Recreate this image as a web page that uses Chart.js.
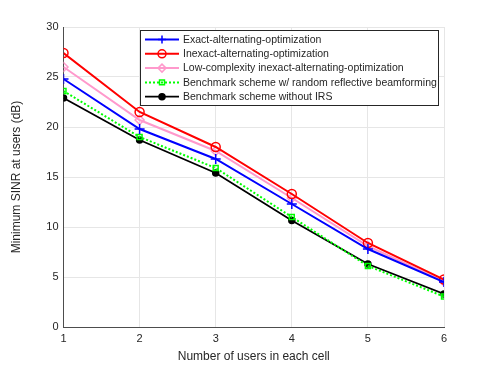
<!DOCTYPE html>
<html>
<head>
<meta charset="utf-8">
<script src="https://cdn.jsdelivr.net/npm/chart.js@4/dist/chart.umd.min.js"></script>
<style>
  html, body { margin: 0; padding: 0; background: #fff; }
  #wrap { width: 491px; height: 368px; }
</style>
</head>
<body>
<div id="wrap"><canvas id="chart" width="491" height="368"></canvas></div>
<script>
/* =========================
   DATA
========================= */
const users = [1, 2, 3, 4, 5, 6];
const exactAO = [24.8, 19.8, 16.8, 12.3, 7.8, 4.5];
const inexactAO = [27.4, 21.5, 18.0, 13.3, 8.4, 4.75];
const lowComplexity = [26.0, 20.7, 17.6, 12.9, 8.1, 4.55];
const randomBeam = [23.6, 19.0, 15.9, 11.0, 6.1, 3.05];
const withoutIRS = [22.9, 18.7, 15.4, 10.65, 6.3, 3.3];
const yTicks = [0, 5, 10, 15, 20, 25, 30];

const FONT = "'Liberation Sans', Arial, sans-serif";

function series(label, data, color, style, opts) {
  return Object.assign({
    label: label,
    data: data.map((v, i) => ({ x: users[i], y: v })),
    borderColor: color,
    backgroundColor: "rgba(0,0,0,0)",
    pointBorderColor: color,
    pointBackgroundColor: "rgba(0,0,0,0)",
    borderWidth: 2,
    pointBorderWidth: 1.5,
    pointStyle: style,
    pointRadius: 4,
    tension: 0
  }, opts || {});
}

const datasets = [
  series("Exact-alternating-optimization", exactAO, "#0000ff", "cross", { pointRadius: 5 }),
  series("Inexact-alternating-optimization", inexactAO, "#ff0000", "circle", { pointRadius: 4.5 }),
  series("Low-complexity inexact-alternating-optimization", lowComplexity, "#ff99cc", "rectRot", { pointRadius: 4.5 }),
  series("Benchmark scheme w/ random reflective beamforming", randomBeam, "#00ff00", "rect", { borderDash: [2, 2], pointRadius: 3.5 }),
  series("Benchmark scheme without IRS", withoutIRS, "#000000", "circle", { pointBackgroundColor: "#000000", pointRadius: 3, borderWidth: 1.8 })
];

/* =========================
   LEGEND (matlab style)
========================= */
const matlabLegend = {
  id: "matlabLegend",
  afterDraw(chart) {
    const ctx = chart.ctx;
    const x0 = 140, y0 = 30, w = 298, h = 75, row = 14.3;
    ctx.save();
    ctx.fillStyle = "#ffffff";
    ctx.fillRect(x0, y0, w, h);
    ctx.strokeStyle = "#262626";
    ctx.lineWidth = 1;
    ctx.strokeRect(x0 + 0.5, y0 + 0.5, w, h);
    ctx.font = "10.5px " + FONT;
    ctx.textBaseline = "middle";
    chart.data.datasets.forEach((ds, i) => {
      const y = y0 + 9.5 + i * row;
      ctx.strokeStyle = ds.borderColor;
      ctx.lineWidth = ds.borderWidth;
      ctx.setLineDash(ds.borderDash || []);
      ctx.beginPath();
      ctx.moveTo(x0 + 5, y);
      ctx.lineTo(x0 + 39, y);
      ctx.stroke();
      ctx.setLineDash([]);
      ctx.fillStyle = ds.pointBackgroundColor;
      ctx.strokeStyle = ds.pointBorderColor;
      ctx.lineWidth = ds.pointBorderWidth;
      Chart.helpers.drawPoint(ctx, {
        pointStyle: ds.pointStyle, radius: Math.min(ds.pointRadius, 4), rotation: 0, borderWidth: ds.pointBorderWidth
      }, x0 + 22, y);
      ctx.fillStyle = "#262626";
      ctx.fillText(ds.label, x0 + 43, y + 0.5);
    });
    ctx.restore();
  }
};

/* =========================
   CHART
========================= */
new Chart(document.getElementById("chart"), {
  type: "line",
  data: { datasets: datasets },
  options: {
    responsive: false,
    animation: false,
    layout: { padding: { top: 27, right: 47, left: 0, bottom: 0 } },
    plugins: { legend: { display: false }, tooltip: { enabled: false } },
    scales: {
      x: {
        type: "linear",
        min: 1, max: 6,
        afterFit: s => { s.height = 41; },
        ticks: { stepSize: 1, color: "#262626", font: { family: FONT, size: 11 }, padding: 5 },
        grid: { color: "#e6e6e6", drawTicks: false },
        border: { color: "#4d4d4d", width: 1 },
        title: { display: true, text: "Number of users in each cell", color: "#262626", font: { family: FONT, size: 12 }, padding: { top: 3 } }
      },
      y: {
        min: 0, max: 30,
        afterFit: s => { s.width = 63.5; },
        afterBuildTicks: s => { s.ticks = yTicks.map(v => ({ value: v })); },
        ticks: { color: "#262626", font: { family: FONT, size: 11 }, padding: 5 },
        grid: { color: "#e6e6e6", drawTicks: false },
        border: { color: "#4d4d4d", width: 1 },
        title: { display: true, text: "Minimum SINR at users (dB)", color: "#262626", font: { family: FONT, size: 12 }, padding: { top: 9, bottom: 4 } }
      }
    }
  },
  plugins: [matlabLegend]
});
</script>
</body>
</html>
